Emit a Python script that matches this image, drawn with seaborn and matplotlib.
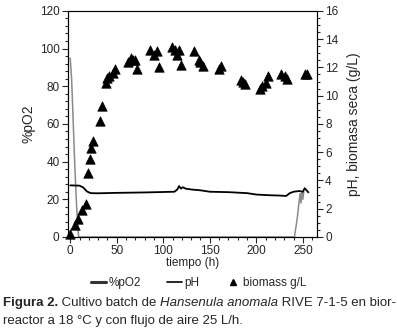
# %%
import numpy as np
import pandas as pd
import seaborn as sns
import matplotlib.pyplot as plt
from matplotlib.ticker import MultipleLocator
from matplotlib.lines import Line2D

# %% datos
t_po2 = [0, 1.5, 3, 5, 7, 9, 20, 60, 120, 180, 241, 244, 246, 247, 248, 249, 250, 251]
po2 = [95, 84, 64, 37, 15, 0, 0, 0, 0, 0, 0, 10, 19, 23, 18, 24, 20, 24]

t_ph = [0, 10, 14, 18, 22, 30, 50, 80, 100, 112, 115, 117, 119, 121, 124, 130, 140,
        150, 170, 190, 200, 215, 225, 232, 236, 240, 246, 250, 252, 254, 256]
ph = [3.65, 3.63, 3.5, 3.22, 3.1, 3.09, 3.12, 3.15, 3.18, 3.2, 3.35, 3.6, 3.42, 3.52,
      3.42, 3.36, 3.3, 3.2, 3.17, 3.1, 3.0, 2.95, 2.93, 2.9, 3.1, 3.2, 3.25, 3.2, 3.45, 3.3, 3.15]

t_bio = [0, 5, 8.5, 13, 17, 19, 21, 22.5, 25, 32, 34.5, 38.5, 40, 42, 46, 48.5,
         62, 65, 68, 70, 72, 85.5, 90, 93.5, 95, 109, 113, 115, 117, 119.5,
         133, 138.5, 140, 143, 160, 162, 183.5, 186, 188, 204, 206.5, 210, 213,
         227, 230.5, 233.5, 252, 254]
biomasa = [0.2, 0.85, 1.3, 1.9, 2.3, 4.5, 5.5, 6.3, 6.8, 8.2, 9.3, 10.9, 11.25, 11.4, 11.6, 11.9,
           12.4, 12.7, 12.55, 12.5, 11.9, 13.2, 12.9, 13.15, 12.0, 13.45, 13.2, 12.9, 13.2, 12.2,
           13.15, 12.55, 12.4, 12.1, 11.9, 12.1, 11.1, 10.95, 10.8, 10.5, 10.7, 10.9, 11.4,
           11.55, 11.4, 11.2, 11.5, 11.5]

# %%
sns.set_style("ticks")
plt.rcParams["font.family"] = ["Liberation Sans", "DejaVu Sans"]

fig = plt.figure(figsize=(3.97, 3.30), dpi=100)
ax = fig.add_axes([0.171, 0.282, 0.627, 0.685])
ax2 = ax.twinx()

sns.lineplot(x=t_po2, y=po2, ax=ax, color="#8a8a8a", lw=1.1, sort=False)
sns.lineplot(x=t_ph, y=ph, ax=ax2, color="black", lw=1.3, sort=False)
sns.scatterplot(x=t_bio, y=biomasa, ax=ax2, marker="^", color="black", s=46,
                edgecolor="black", linewidth=0.5, clip_on=False, zorder=5)

ax.set_xlim(-2.5, 265)
ax.set_ylim(0, 120)
ax2.set_ylim(0, 16)
ax.xaxis.set_major_locator(MultipleLocator(50))
ax.xaxis.set_minor_locator(MultipleLocator(10))
ax.yaxis.set_major_locator(MultipleLocator(20))
ax.yaxis.set_minor_locator(MultipleLocator(4))
ax2.yaxis.set_major_locator(MultipleLocator(2))
ax2.yaxis.set_minor_locator(MultipleLocator(0.5))
for a in (ax, ax2):
    a.tick_params(which="major", direction="out", length=4, width=0.8, labelsize=8.5, pad=2)
    a.tick_params(which="minor", direction="out", length=2, width=0.8)
    for s in a.spines.values():
        s.set_linewidth(0.8)
        s.set_color("black")
ax.spines["top"].set_color("#777777")

ax.set_xlabel("tiempo (h)", fontsize=8.5, labelpad=0)
ax.set_ylabel("%pO2", fontsize=10, labelpad=3)
ax2.set_ylabel("pH, biomasa seca (g/L)", fontsize=10, labelpad=6)

handles = [Line2D([], [], color="#333333", lw=2.2),
           Line2D([], [], color="black", lw=1.2),
           Line2D([], [], color="black", marker="^", ls="none", markersize=5)]
fig.legend(handles, ["%pO2", "pH", "biomass g/L"], loc="center", ncol=3,
           bbox_to_anchor=(0.5, 0.142), frameon=False, fontsize=8.5,
           handlelength=1.3, handletextpad=0.2, columnspacing=2.2)

# pie de figura con estilos mezclados
r = fig.canvas.get_renderer()
partes = [("Figura 2.", "bold", "normal"), (" Cultivo batch de ", "normal", "normal"),
          ("Hansenula anomala", "normal", "italic"), (" RIVE 7-1-5 en bior-", "normal", "normal")]
x = 0.008
for txt, w, st in partes:
    t = fig.text(x, 0.073, txt, fontsize=9.5, weight=w, style=st, va="baseline")
    bb = t.get_window_extent(r)
    x += bb.width / fig.bbox.width
fig.text(0.008, 0.018, "reactor a 18 °C y con flujo de aire 25 L/h.", fontsize=9.5, va="baseline")

fig.savefig("out.png", dpi=100)
